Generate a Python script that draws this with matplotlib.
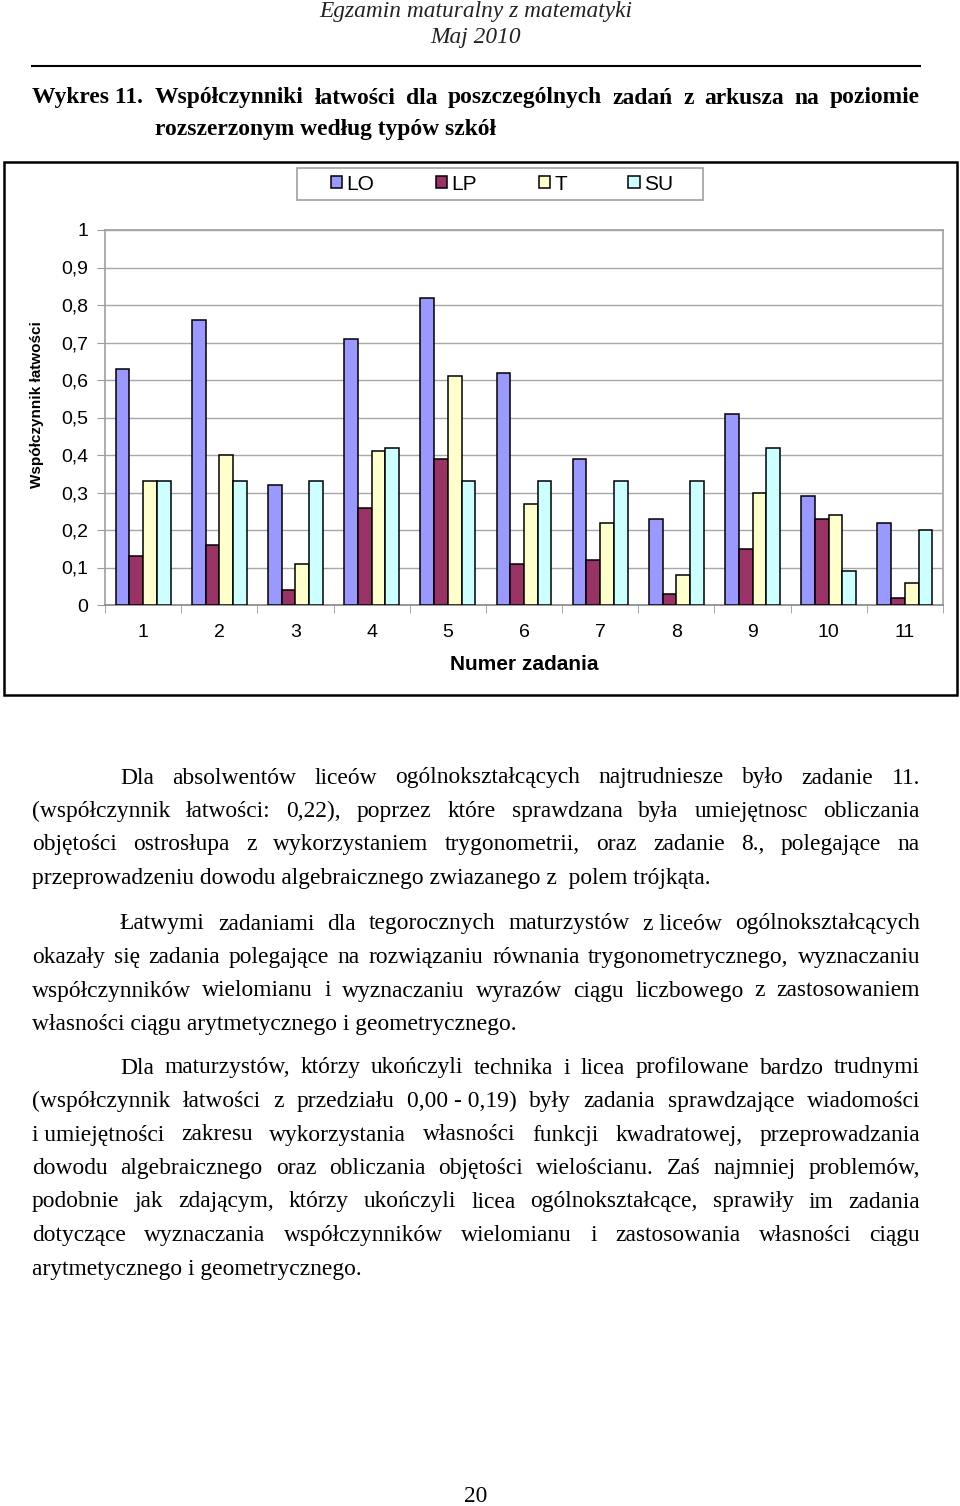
# %% Imports
import matplotlib
matplotlib.use("Agg")
import matplotlib.pyplot as plt
import numpy as np
from matplotlib.patches import Rectangle
from matplotlib.lines import Line2D

# %% Data
tasks = ["1", "2", "3", "4", "5", "6", "7", "8", "9", "10", "11"]
series_names = ["LO", "LP", "T", "SU"]
lo = [0.63, 0.76, 0.32, 0.71, 0.82, 0.62, 0.39, 0.23, 0.51, 0.29, 0.22]
lp = [0.13, 0.16, 0.04, 0.26, 0.39, 0.11, 0.12, 0.03, 0.15, 0.23, 0.02]
t = [0.33, 0.40, 0.11, 0.41, 0.61, 0.27, 0.22, 0.08, 0.30, 0.24, 0.06]
su = [0.33, 0.33, 0.33, 0.42, 0.33, 0.33, 0.33, 0.33, 0.42, 0.09, 0.20]
y_ticks = [0, 0.1, 0.2, 0.3, 0.4, 0.5, 0.6, 0.7, 0.8, 0.9, 1]
y_tick_labels = ["0", "0,1", "0,2", "0,3", "0,4", "0,5", "0,6", "0,7", "0,8", "0,9", "1"]
colors = ["#9999FF", "#993366", "#FFFFCC", "#CCFFFF"]

header = ["Egzamin maturalny z matematyki", "Maj 2010"]
title_head = "Wykres 11."
title_lines = ["Współczynniki łatwości dla poszczególnych zadań z arkusza na poziomie",
               "rozszerzonym według typów szkół"]

para1 = ["Dla absolwentów liceów ogólnokształcących najtrudniesze było zadanie 11.",
         "(współczynnik łatwości: 0,22), poprzez które sprawdzana była umiejętnosc obliczania",
         "objętości ostrosłupa z wykorzystaniem trygonometrii, oraz zadanie 8., polegające na",
         "przeprowadzeniu dowodu algebraicznego zwiazanego z  polem trójkąta."]
para2 = ["Łatwymi zadaniami dla tegorocznych maturzystów z\u00a0liceów ogólnokształcących",
         "okazały się zadania polegające na rozwiązaniu równania trygonometrycznego, wyznaczaniu",
         "współczynników wielomianu i wyznaczaniu wyrazów ciągu liczbowego z zastosowaniem",
         "własności ciągu arytmetycznego i geometrycznego."]
para3 = ["Dla maturzystów, którzy ukończyli technika i licea profilowane bardzo trudnymi",
         "(współczynnik łatwości z przedziału 0,00\u00a0-\u00a00,19) były zadania sprawdzające wiadomości",
         "i\u00a0umiejętności zakresu wykorzystania własności funkcji kwadratowej, przeprowadzania",
         "dowodu algebraicznego oraz obliczania objętości wielościanu. Zaś najmniej problemów,",
         "podobnie jak zdającym, którzy ukończyli licea ogólnokształcące, sprawiły im zadania",
         "dotyczące wyznaczania współczynników wielomianu i zastosowania własności ciągu",
         "arytmetycznego i geometrycznego."]
page_number = "20"

# %% Figure
W, H = 960, 1506
fig = plt.figure(figsize=(W / 100, H / 100), dpi=100)
renderer = fig.canvas.get_renderer()
SERIF = "Liberation Serif"
SANS = "Liberation Sans"


def fx(px):
    return px / W


def fy(py):
    return 1 - py / H


def text_width(s, size, **kw):
    tt = fig.text(0, 0, s, fontsize=size, family=SERIF, **kw)
    w = tt.get_window_extent(renderer).width
    tt.remove()
    return w


def size_for(s, target_px, **kw):
    return 10 * target_px / text_width(s, 10, **kw)


def put_line(y, line, x0, x1, size, justify=True, **kw):
    if not justify:
        fig.text(fx(x0), fy(y), line, fontsize=size, family=SERIF, va="center", **kw)
        return
    words = [w for w in line.split(" ") if w]
    widths = [text_width(w, size, **kw) for w in words]
    gap = (x1 - x0 - sum(widths)) / (len(words) - 1)
    x = x0
    for w, wd in zip(words, widths):
        fig.text(fx(x), fy(y), w, fontsize=size, family=SERIF, va="center", **kw)
        x += wd + gap


# Header
hsize = size_for(header[0], 313, style="italic")
fig.text(fx(476), fy(12), header[0], fontsize=hsize, family=SERIF, style="italic",
         ha="center", va="center", color="#222222")
fig.text(fx(476), fy(38), header[1], fontsize=hsize, family=SERIF, style="italic",
         ha="center", va="center", color="#222222")
fig.add_artist(Line2D([fx(32), fx(920)], [fy(66), fy(66)], color="black", lw=1.5))

# Title
tsize = size_for(title_lines[1], 342, weight="bold")
fig.text(fx(32), fy(98), title_head, fontsize=tsize, family=SERIF, weight="bold", va="center")
put_line(98, title_lines[0], 155, 920, tsize, weight="bold")
put_line(130, title_lines[1], 155, 920, tsize, justify=False, weight="bold")

# Body text
bsize = size_for(para1[3], 680)
L, R, IND = 32, 920, 120
for lines, y0 in [(para1, 778), (para2, 924), (para3, 1068)]:
    for k, line in enumerate(lines):
        x0 = IND if k == 0 else L
        last = k == len(lines) - 1
        put_line(y0 + k * 33.5, line, x0, R, bsize, justify=not last)

fig.text(fx(476), fy(1496), page_number, fontsize=bsize, family=SERIF, ha="center", va="center")

# %% Chart frame
fig.add_artist(Rectangle((fx(4), fy(695)), fx(957) - fx(4), fy(162) - fy(695),
                         transform=fig.transFigure, fill=False, edgecolor="black", lw=1.8))

ax = fig.add_axes([fx(105), fy(605), fx(943) - fx(105), fy(230) - fy(605)])
x = np.arange(1, len(tasks) + 1)
bw = 0.18
handles = []
for i, (vals, c) in enumerate(zip([lo, lp, t, su], colors)):
    b = ax.bar(x + (i - 1.5) * bw, vals, bw, color=c, edgecolor="black", linewidth=1.1,
               label=series_names[i], zorder=3)
    handles.append(b)

ax.set_xlim(0.5, len(tasks) + 0.5)
ax.set_ylim(0, 1)
ax.set_yticks(y_ticks)
ax.set_yticklabels(y_tick_labels, family=SANS, fontsize=14)
ax.set_xticks(x)
ax.set_xticklabels(tasks, family=SANS, fontsize=14)
ax.set_xticks(np.arange(0.5, len(tasks) + 1, 1), minor=True)
ax.tick_params(axis="x", which="major", length=0, pad=14)
ax.tick_params(axis="x", which="minor", length=6, color="#999999", direction="out")
ax.tick_params(axis="y", length=6, color="#999999", pad=6)
ax.grid(axis="y", color="#a8a8a8", lw=1, zorder=0)
for s in ax.spines.values():
    s.set_color("#a0a0a0")
    s.set_linewidth(1.2)
ax.spines["bottom"].set_color("#888888")
ax.set_xlabel("Numer zadania", family=SANS, fontsize=15, weight="bold", labelpad=10)

fig.text(fx(37), fy(405), "Współczynnik łatwości", rotation=90, family=SANS, fontsize=11,
         weight="bold", ha="center", va="center")

# Legend box drawn separately, entries centred inside it
fig.add_artist(Rectangle((fx(297), fy(200)), fx(703) - fx(297), fy(168) - fy(200),
                         transform=fig.transFigure, fill=False, edgecolor="#a0a0a0", lw=1.2))
leg = fig.legend(handles=handles, labels=series_names, loc="center",
                 bbox_to_anchor=(fx(502), fy(184)), ncol=4, frameon=False,
                 prop={"family": SANS, "size": 15},
                 handlelength=0.55, handleheight=0.55, handletextpad=0.2, columnspacing=2.95,
                 borderpad=0.2)

fig.savefig("out.png", dpi=100)
